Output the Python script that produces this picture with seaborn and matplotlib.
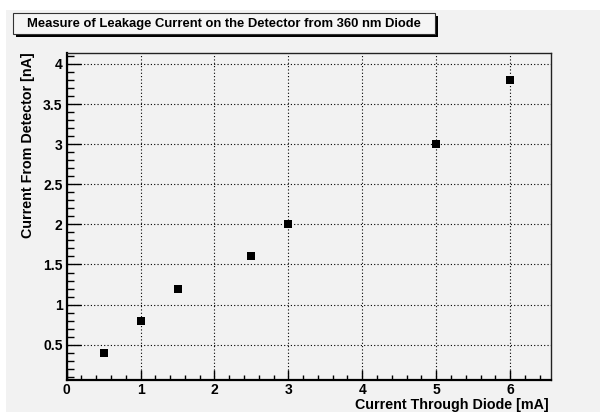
import matplotlib
matplotlib.use("Agg")
import matplotlib.pyplot as plt
from matplotlib.patches import Rectangle
from matplotlib.ticker import MultipleLocator, FixedLocator, FixedFormatter
import pandas as pd
import seaborn as sns

# Measured points
diode_current_ma = [0.5, 1.0, 1.5, 2.5, 3.0, 5.0, 6.0]
detector_current_na = [0.4, 0.8, 1.2, 1.6, 2.0, 3.0, 3.8]

x_ticks = [0, 1, 2, 3, 4, 5, 6]
x_tick_labels = ["0", "1", "2", "3", "4", "5", "6"]
y_ticks = [0.5, 1.0, 1.5, 2.0, 2.5, 3.0, 3.5, 4.0]
y_tick_labels = ["0.5", "1", "1.5", "2", "2.5", "3", "3.5", "4"]

title = "Measure of Leakage Current on the Detector from 360 nm Diode"
x_label = "Current Through Diode [mA]"
y_label = "Current From Detector [nA]"

df = pd.DataFrame({"diode": diode_current_ma, "detector": detector_current_na})

sns.set_theme(style="ticks")
plt.rcParams["font.family"] = ["Liberation Sans", "DejaVu Sans"]
plt.rcParams["font.weight"] = "bold"

W, H = 600, 412
bg = "#f2f2f2"
fig = plt.figure(figsize=(W / 100, H / 100), dpi=100, facecolor="white")

# canvas fill
fig.patches.append(Rectangle((6 / W, 0), 1 - 6 / W, 1 - 10 / H,
                             transform=fig.transFigure, facecolor=bg,
                             edgecolor="none", zorder=-10))

# plot frame
x0, x1 = 66.7, 550.7
y_top, y_bot = 52.7, 380.0
ax = fig.add_axes([x0 / W, 1 - y_bot / H, (x1 - x0) / W, (y_bot - y_top) / H])
ax.set_facecolor(bg)

sns.scatterplot(data=df, x="diode", y="detector", marker="s", s=27,
                color="black", edgecolor="black", linewidth=0, ax=ax, zorder=5)

ax.set_xlim(0, 6.55)
ax.set_ylim(0.06, 4.14)

ax.xaxis.set_major_locator(FixedLocator(x_ticks))
ax.xaxis.set_major_formatter(FixedFormatter(x_tick_labels))
ax.xaxis.set_minor_locator(MultipleLocator(0.2))
ax.yaxis.set_major_locator(FixedLocator(y_ticks))
ax.yaxis.set_major_formatter(FixedFormatter(y_tick_labels))
ax.yaxis.set_minor_locator(MultipleLocator(0.1))

ax.grid(True, which="major", color="black", linestyle=(0, (1, 2)), linewidth=0.8)
ax.set_axisbelow(True)

ax.tick_params(axis="x", which="major", direction="in", length=7.2, width=1.0,
               color="black", labelsize=10, pad=2.5, labelcolor="black")
ax.tick_params(axis="x", which="minor", direction="in", length=3.6, width=1.0,
               color="black")
ax.tick_params(axis="y", which="major", direction="in", length=10.4, width=1.0,
               color="black", labelsize=10, pad=3, labelcolor="black")
ax.tick_params(axis="y", which="minor", direction="in", length=5.2, width=1.0,
               color="black")
ax.tick_params(top=False, right=False, which="both")

for side in ("left", "bottom"):
    ax.spines[side].set_color("black")
    ax.spines[side].set_linewidth(1.6)
for side in ("top", "right"):
    ax.spines[side].set_color("#222222")
    ax.spines[side].set_linewidth(1.0)

ax.set_xlabel("")
ax.set_ylabel("")

# axis titles
fig.text(549 / W, 3 / H, x_label, ha="right", va="baseline",
         fontsize=10.3, fontweight="bold", color="black")
fig.text(32 / W, 1 - 52.5 / H, y_label, rotation=90, rotation_mode="anchor",
         ha="right", va="baseline", fontsize=10.3, fontweight="bold", color="black")

# title box with drop shadow
bx0, by0, bx1, by1 = 13, 13, 435, 34
sh = 2.5
fig.patches.append(Rectangle(((bx0 + sh) / W, 1 - (by1 + sh) / H),
                             (bx1 - bx0) / W, (by1 - by0) / H,
                             transform=fig.transFigure, facecolor="black",
                             edgecolor="none", zorder=1))
fig.patches.append(Rectangle((bx0 / W, 1 - by1 / H), (bx1 - bx0) / W,
                             (by1 - by0) / H, transform=fig.transFigure,
                             facecolor="#f5f5f5", edgecolor="#333333",
                             linewidth=0.8, zorder=2))
fig.text((bx0 + bx1) / 2 / W, 1 - (by0 + by1) / 2 / H, title, ha="center",
         va="center", fontsize=9.4, fontweight="bold", color="black", zorder=3)

fig.savefig("out.png", dpi=100, facecolor="white")
